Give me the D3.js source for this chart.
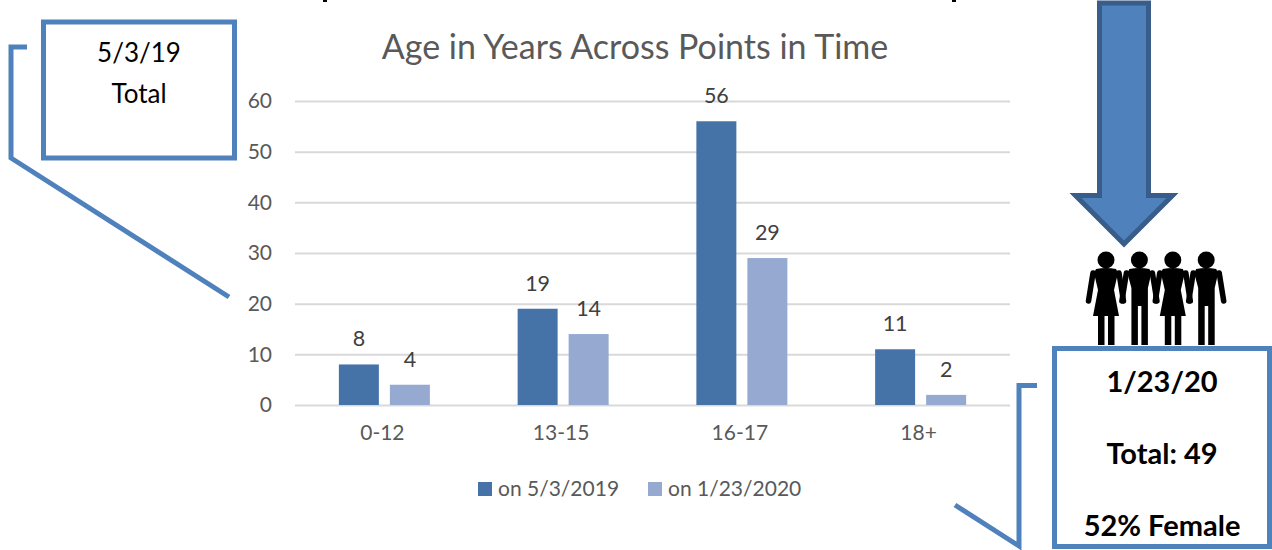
<!DOCTYPE html>
<html>
<head>
<meta charset="utf-8">
<script src="https://cdn.jsdelivr.net/npm/d3@7"></script>
<style>
html, body { margin: 0; background: #fff; }
svg { display: block; font-family: Lato, sans-serif; }
</style>
</head>
<body>
<script>
const width = 1272;
const height = 550;

const ageGroups = ["0-12", "13-15", "16-17", "18+"];
const seriesNames = ["on 5/3/2019", "on 1/23/2020"];
const values2019 = [8, 19, 56, 11];
const values2020 = [4, 14, 29, 2];
const yTicks = [0, 10, 20, 30, 40, 50, 60];
const seriesColors = ["#4573a7", "#95a9d1"];
const figures = ["f", "m", "f", "m"];

const boxBlue = "#4f81bd";

const svg = d3.select("body").append("svg")
	.attr("width", width)
	.attr("height", height);

const x = d3.scaleBand().domain(ageGroups).range([295, 1010]);
const xInner = d3.scaleBand().domain([0, 1])
	.range([0, x.bandwidth()])
	.paddingInner(0.216)
	.paddingOuter(0.86);
const y = d3.scaleLinear().domain([0, 60]).range([405, 101]);

// gridlines + y labels
const yAxis = svg.append("g")
	.attr("transform", "translate(295,0)")
	.call(d3.axisLeft(y).tickValues(yTicks).tickSize(-715).tickPadding(23));
yAxis.select(".domain").remove();
yAxis.selectAll("line").attr("stroke", "#d9d9d9").attr("stroke-width", 2);
yAxis.selectAll("text")
	.attr("fill", "#595959")
	.style("font-size", "21px")
	.style("font-family", "Lato, sans-serif");

// bars
const groups = svg.selectAll(".age")
	.data(ageGroups)
	.join("g")
	.attr("class", "age")
	.attr("transform", d => `translate(${x(d)},0)`);

[values2019, values2020].forEach((values, s) => {
	groups.append("rect")
		.attr("x", xInner(s))
		.attr("width", xInner.bandwidth())
		.attr("y", (d, i) => y(values[i]))
		.attr("height", (d, i) => y(0) - y(values[i]))
		.attr("fill", seriesColors[s]);

	groups.append("text")
		.attr("x", xInner(s) + xInner.bandwidth() / 2)
		.attr("y", (d, i) => y(values[i]) - 18)
		.attr("text-anchor", "middle")
		.attr("fill", "#404040")
		.style("font-size", "21.5px")
		.text((d, i) => values[i]);
});

// x labels
const xAxis = svg.append("g")
	.attr("transform", "translate(-2,405)")
	.call(d3.axisBottom(x).tickSize(0).tickPadding(20));
xAxis.select(".domain").remove();
xAxis.selectAll("text")
	.attr("fill", "#595959")
	.style("font-size", "21px")
	.style("font-family", "Lato, sans-serif");

// chart title
svg.append("text")
	.attr("x", 635)
	.attr("y", 59)
	.attr("text-anchor", "middle")
	.attr("fill", "#595959")
	.style("font-size", "34px")
	.text("Age in Years Across Points in Time");

// legend
const legendX = d3.scaleOrdinal().domain(seriesNames).range([478, 648]);
const legend = svg.selectAll(".legend")
	.data(seriesNames)
	.join("g")
	.attr("class", "legend")
	.attr("transform", d => `translate(${legendX(d)},482)`);
legend.append("rect")
	.attr("width", 14)
	.attr("height", 14)
	.attr("fill", (d, i) => seriesColors[i]);
legend.append("text")
	.attr("x", 20)
	.attr("y", 14)
	.attr("fill", "#595959")
	.style("font-size", "21px")
	.text(d => d);

// left callout
svg.append("rect")
	.attr("x", 43.5).attr("y", 22)
	.attr("width", 191).attr("height", 136)
	.attr("fill", "#fff")
	.attr("stroke", boxBlue)
	.attr("stroke-width", 5);
svg.append("path")
	.attr("d", "M27,47H11V158L229,297")
	.attr("fill", "none")
	.attr("stroke", boxBlue)
	.attr("stroke-width", 5);
svg.append("text").attr("x", 139).attr("y", 62)
	.attr("text-anchor", "middle").style("font-size", "26px").text("5/3/19");
svg.append("text").attr("x", 139).attr("y", 103)
	.attr("text-anchor", "middle").style("font-size", "26px").text("Total");

// right callout
svg.append("rect")
	.attr("x", 1054.5).attr("y", 348.5)
	.attr("width", 215).attr("height", 198)
	.attr("fill", "#fff")
	.attr("stroke", boxBlue)
	.attr("stroke-width", 5);
svg.append("path")
	.attr("d", "M1037,385.5H1019V546L955,505")
	.attr("fill", "none")
	.attr("stroke", boxBlue)
	.attr("stroke-width", 5);
[["1/23/20", 392], ["Total: 49", 464], ["52% Female", 536]].forEach(([label, yPos]) => {
	svg.append("text").attr("x", 1162).attr("y", yPos)
		.attr("text-anchor", "middle")
		.style("font-size", "29px")
		.style("font-weight", 700)
		.text(label);
});

// big arrow
svg.append("path")
	.attr("d", "M1099.5,3H1148.5V195.5H1172.5L1124,244L1075.5,195.5H1099.5Z")
	.attr("fill", boxBlue)
	.attr("stroke", "#385d8a")
	.attr("stroke-width", 5);

// people, origin on each head
const people = svg.selectAll(".person")
	.data(figures)
	.join("g")
	.attr("class", "person")
	.attr("transform", (d, i) => `translate(${1106 + i * 33.4},260)`);
people.append("circle").attr("r", 8.5);
people.append("path")
	.attr("d", d => d === "f"
		? "M-10,9Q0,7 10,9L12,13L8,30L13,56H8.5V85H2V56H-1.5V85H-8V56H-13L-8,30L-12,13Z"
		: "M-10,9Q0,7 10,9L12,13L8.5,28V85H2V46H-1.5V85H-8V28L-12,13Z");
people.selectAll(".arm")
	.data([-1, 1])
	.join("path")
	.attr("class", "arm")
	.attr("d", s => `M${s * 13},13L${s * 17.5},41`)
	.attr("fill", "none")
	.attr("stroke", "#000")
	.attr("stroke-width", 5.5)
	.attr("stroke-linecap", "round");

// cut off heading, only descenders left at the page top
[[323, 4], [952, 4]].forEach(([left, w]) => {
	svg.append("rect").attr("x", left).attr("y", 0).attr("width", w).attr("height", 2);
});
</script>
</body>
</html>
